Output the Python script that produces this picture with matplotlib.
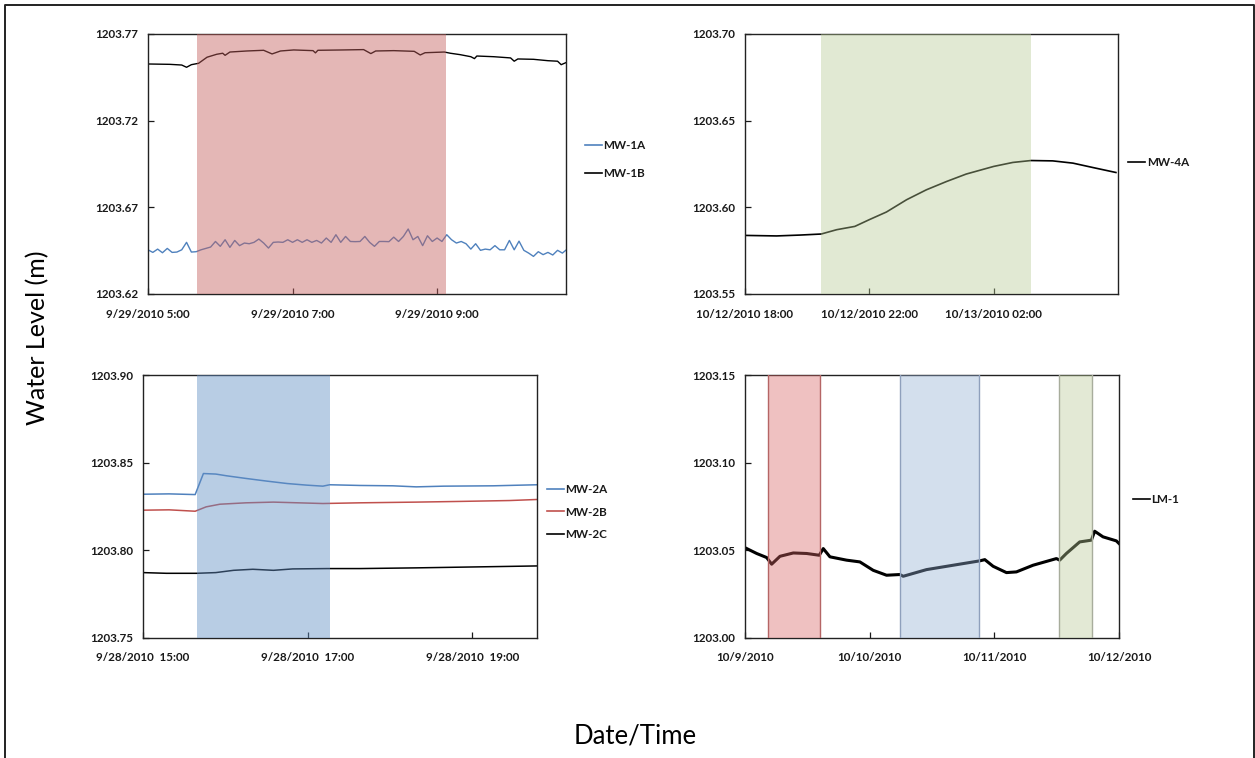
import matplotlib
matplotlib.use("Agg")
import matplotlib.pyplot as plt
import pandas as pd
from matplotlib.lines import Line2D

plt.rcParams['font.family'] = ['Lato', 'DejaVu Sans']

# ---------------- Panel 1 : 9/29/2010 ----------------
p1_date = "2010-09-29"
mw1a_start = "2010-09-29 05:00"
mw1a_step = "4min"
mw1a_values = [1203.6455, 1203.6440, 1203.6459, 1203.6438, 1203.6463, 1203.6440, 1203.6442, 1203.6455,
               1203.6498, 1203.6442, 1203.6444, 1203.6455, 1203.6463, 1203.6471, 1203.6503, 1203.6475,
               1203.6513, 1203.6469, 1203.6509, 1203.6479, 1203.6494, 1203.6490, 1203.6498, 1203.6517,
               1203.6494, 1203.6465, 1203.6498, 1203.6500, 1203.6498, 1203.6513, 1203.6498, 1203.6513,
               1203.6498, 1203.6513, 1203.6498, 1203.6509, 1203.6494, 1203.6523, 1203.6498, 1203.6542,
               1203.6498, 1203.6532, 1203.6503, 1203.6502, 1203.6503, 1203.6532, 1203.6498, 1203.6475,
               1203.6503, 1203.6503, 1203.6502, 1203.6528, 1203.6503, 1203.6532, 1203.6575, 1203.6513,
               1203.6532, 1203.6479, 1203.6536, 1203.6503, 1203.6523, 1203.6503, 1203.6542, 1203.6513,
               1203.6494, 1203.6503, 1203.6490, 1203.6459, 1203.6490, 1203.6452, 1203.6459, 1203.6455,
               1203.6479, 1203.6455, 1203.6455, 1203.6509, 1203.6455, 1203.6505, 1203.6452, 1203.6436,
               1203.6417, 1203.6444, 1203.6427, 1203.6440, 1203.6425, 1203.6452, 1203.6436, 1203.6459]
mw1b_times = ["05:00", "05:18", "05:28", "05:32", "05:36", "05:42", "05:49", "05:57", "06:02", "06:04",
              "06:08", "06:22", "06:36", "06:43", "06:50", "07:01", "07:17", "07:19", "07:21", "07:42",
              "07:59", "08:05", "08:09", "08:24", "08:41", "08:46", "08:50", "09:06", "09:11", "09:19",
              "09:28", "09:31", "09:33", "09:47", "10:01", "10:04", "10:07", "10:20", "10:32", "10:40",
              "10:43", "10:47"]
mw1b_values = [1203.7527, 1203.7525, 1203.7521, 1203.7508, 1203.7523, 1203.7531, 1203.7566, 1203.7583,
               1203.7589, 1203.7577, 1203.7596, 1203.7602, 1203.7606, 1203.7585, 1203.7602, 1203.7608,
               1203.7604, 1203.7591, 1203.7606, 1203.7608, 1203.7610, 1203.7587, 1203.7602, 1203.7604,
               1203.7600, 1203.7579, 1203.7592, 1203.7596, 1203.7589, 1203.7581, 1203.7569, 1203.7558,
               1203.7573, 1203.7569, 1203.7562, 1203.7543, 1203.7556, 1203.7554, 1203.7546, 1203.7543,
               1203.7523, 1203.7535]
p1_span = ("2010-09-29 05:41", "2010-09-29 09:07")
p1_xlim = ("2010-09-29 05:00", "2010-09-29 10:47")
p1_yticks = [1203.62, 1203.67, 1203.72, 1203.77]
p1_xticks = ["2010-09-29 05:00", "2010-09-29 07:00", "2010-09-29 09:00"]
p1_xticklabels = ["9/29/2010 5:00", "9/29/2010 7:00", "9/29/2010 9:00"]

# ---------------- Panel 2 : 10/12-10/13/2010 ----------------
mw4a_times = ["2010-10-12 18:00", "2010-10-12 19:01", "2010-10-12 19:46", "2010-10-12 20:27",
              "2010-10-12 20:57", "2010-10-12 21:32", "2010-10-12 22:00", "2010-10-12 22:33",
              "2010-10-12 23:12", "2010-10-12 23:50", "2010-10-13 00:29", "2010-10-13 01:07",
              "2010-10-13 02:00", "2010-10-13 02:37", "2010-10-13 03:12", "2010-10-13 03:54",
              "2010-10-13 04:33", "2010-10-13 05:11", "2010-10-13 05:56"]
mw4a_values = [1203.5838, 1203.5835, 1203.5840, 1203.5846, 1203.5871, 1203.5890, 1203.5929, 1203.5973,
               1203.6044, 1203.6101, 1203.6149, 1203.6192, 1203.6236, 1203.6259, 1203.6270, 1203.6268,
               1203.6255, 1203.6230, 1203.6201]
p2_span = ("2010-10-12 20:26", "2010-10-13 03:13")
p2_xlim = ("2010-10-12 18:00", "2010-10-13 06:00")
p2_yticks = [1203.55, 1203.60, 1203.65, 1203.70]
p2_xticks = ["2010-10-12 18:00", "2010-10-12 22:00", "2010-10-13 02:00"]
p2_xticklabels = ["10/12/2010 18:00", "10/12/2010 22:00", "10/13/2010 02:00"]

# ---------------- Panel 3 : 9/28/2010 ----------------
p3_date = "2010-09-28"
mw2a_times = ["15:00", "15:19", "15:38", "15:44", "15:53", "16:01", "16:15", "16:30", "16:45", "16:59",
              "17:11", "17:16", "17:38", "18:02", "18:19", "18:39", "19:15", "19:47"]
mw2a_values = [1203.8320, 1203.8322, 1203.8318, 1203.8438, 1203.8435, 1203.8425, 1203.8410, 1203.8395,
               1203.8381, 1203.8372, 1203.8366, 1203.8374, 1203.8370, 1203.8368, 1203.8362, 1203.8366,
               1203.8368, 1203.8374]
mw2b_times = ["15:00", "15:19", "15:38", "15:46", "15:56", "16:15", "16:35", "17:11", "17:38", "18:19",
              "18:51", "19:27", "19:47"]
mw2b_values = [1203.8229, 1203.8231, 1203.8223, 1203.8248, 1203.8263, 1203.8271, 1203.8275, 1203.8267,
               1203.8271, 1203.8275, 1203.8279, 1203.8284, 1203.8290]
mw2c_times = ["15:00", "15:17", "15:39", "15:53", "16:06", "16:20", "16:35", "16:49", "17:14", "17:38",
              "18:19", "18:51", "19:47"]
mw2c_values = [1203.7873, 1203.7869, 1203.7869, 1203.7873, 1203.7886, 1203.7892, 1203.7886, 1203.7894,
               1203.7896, 1203.7896, 1203.7900, 1203.7904, 1203.7911]
p3_span = ("2010-09-28 15:39", "2010-09-28 17:16")
p3_xlim = ("2010-09-28 15:00", "2010-09-28 19:47")
p3_yticks = [1203.75, 1203.80, 1203.85, 1203.90]
p3_xticks = ["2010-09-28 15:00", "2010-09-28 17:00", "2010-09-28 19:00"]
p3_xticklabels = ["9/28/2010  15:00", "9/28/2010  17:00", "9/28/2010  19:00"]

# ---------------- Panel 4 : 10/9-10/12/2010 ----------------
lm1_times = ["2010-10-09 00:00", "2010-10-09 02:15", "2010-10-09 04:10", "2010-10-09 05:08",
             "2010-10-09 06:44", "2010-10-09 09:18", "2010-10-09 11:52", "2010-10-09 14:18",
             "2010-10-09 15:04", "2010-10-09 16:21", "2010-10-09 19:33", "2010-10-09 22:07",
             "2010-10-10 00:41", "2010-10-10 03:15", "2010-10-10 05:49", "2010-10-10 06:27",
             "2010-10-10 10:56", "2010-10-10 16:04", "2010-10-10 21:12", "2010-10-10 22:10",
             "2010-10-10 23:46", "2010-10-11 02:20", "2010-10-11 04:15", "2010-10-11 07:27",
             "2010-10-11 11:57", "2010-10-11 12:35", "2010-10-11 13:52", "2010-10-11 16:26",
             "2010-10-11 18:41", "2010-10-11 19:19", "2010-10-11 20:55", "2010-10-11 23:29",
             "2010-10-12 00:00"]
lm1_values = [1203.0515, 1203.0482, 1203.0459, 1203.0421, 1203.0466, 1203.0485, 1203.0482, 1203.0472,
              1203.0510, 1203.0463, 1203.0444, 1203.0434, 1203.0386, 1203.0358, 1203.0362, 1203.0352,
              1203.0390, 1203.0415, 1203.0440, 1203.0447, 1203.0409, 1203.0373, 1203.0377, 1203.0415,
              1203.0453, 1203.0444, 1203.0482, 1203.0548, 1203.0558, 1203.0609, 1203.0577, 1203.0554,
              1203.0539]
p4_spans = [("2010-10-09 04:22", "2010-10-09 14:23"),
            ("2010-10-10 05:46", "2010-10-10 21:03"),
            ("2010-10-11 12:29", "2010-10-11 18:50")]
p4_xlim = ("2010-10-09 00:00", "2010-10-12 00:00")
p4_yticks = [1203.00, 1203.05, 1203.10, 1203.15]
p4_xticks = ["2010-10-09", "2010-10-10", "2010-10-11", "2010-10-12"]
p4_xticklabels = ["10/9/2010", "10/10/2010", "10/11/2010", "10/12/2010"]

# ---------------- styles ----------------
BLUE = "#4F81BD"
RED = "#C0504D"
BLACK = "#000000"
TICK_FS = 8.4
LEG_FS = 8.4
WEIGHT = "bold"

W, H = 1255, 758
fig = plt.figure(figsize=(W / 100, H / 100), dpi=100)


def px_axes(l, t, r, b):
    return fig.add_axes([l / W, 1 - b / H, (r - l) / W, (b - t) / H])


def style(ax, xlim, yticks, xticks, xticklabels, xpad):
    ax.set_xlim(pd.Timestamp(xlim[0]), pd.Timestamp(xlim[1]))
    ax.set_ylim(yticks[0], yticks[-1])
    ax.set_yticks(yticks)
    ax.set_yticklabels([f"{v:.2f}" for v in yticks], fontweight=WEIGHT)
    ax.set_xticks(pd.to_datetime(xticks))
    ax.set_xticklabels(xticklabels, fontweight=WEIGHT)
    ax.tick_params(axis='both', direction='in', length=4, width=0.9, labelsize=TICK_FS,
                   colors="#1a1a1a")
    ax.tick_params(axis='y', pad=7)
    ax.tick_params(axis='x', pad=xpad)
    for s in ax.spines.values():
        s.set_linewidth(1.0)
        s.set_color("#222222")


def legend(ax, x, y, spacing):
    leg = ax.legend(loc='center left', bbox_to_anchor=(x, y), frameon=False,
                    prop={'size': LEG_FS, 'weight': WEIGHT},
                    handlelength=1.45, handletextpad=0.15, borderpad=0, borderaxespad=0,
                    labelspacing=spacing)
    for h in leg.get_lines():
        h.set_linewidth(1.2)
    for t in leg.get_texts():
        t.set_color("#1a1a1a")


# Panel 1
ax1 = px_axes(148, 34, 566, 294)
t1a = pd.date_range(mw1a_start, periods=len(mw1a_values), freq=mw1a_step)
ax1.plot(t1a, mw1a_values, color=BLUE, lw=1.0, label="MW-1A", zorder=2)
ax1.plot(pd.to_datetime([p1_date + " " + t for t in mw1b_times]), mw1b_values,
         color=BLACK, lw=1.0, label="MW-1B", zorder=2)
ax1.axvspan(pd.Timestamp(p1_span[0]), pd.Timestamp(p1_span[1]), color=(197/255, 97/255, 95/255),
            alpha=0.45, lw=0, zorder=3)
style(ax1, p1_xlim, p1_yticks, p1_xticks, p1_xticklabels, 11)
legend(ax1, 1.045, 0.517, 1.45)

# Panel 2
ax2 = px_axes(745, 34, 1118, 294)
ax2.plot(pd.to_datetime(mw4a_times), mw4a_values, color=BLACK, lw=1.2, label="MW-4A", zorder=2)
ax2.axvspan(pd.Timestamp(p2_span[0]), pd.Timestamp(p2_span[1]), color=(182/255, 202/255, 147/255),
            alpha=0.4, lw=0, zorder=3)
style(ax2, p2_xlim, p2_yticks, p2_xticks, p2_xticklabels, 11)
legend(ax2, 1.027, 0.504, 1.2)

# Panel 3
ax3 = px_axes(143, 375, 537, 638)
ax3.plot(pd.to_datetime([p3_date + " " + t for t in mw2a_times]), mw2a_values,
         color=BLUE, lw=1.1, label="MW-2A", zorder=2)
ax3.plot(pd.to_datetime([p3_date + " " + t for t in mw2b_times]), mw2b_values,
         color=RED, lw=1.1, label="MW-2B", zorder=2)
ax3.plot(pd.to_datetime([p3_date + " " + t for t in mw2c_times]), mw2c_values,
         color=BLACK, lw=1.1, label="MW-2C", zorder=2)
ax3.axvspan(pd.Timestamp(p3_span[0]), pd.Timestamp(p3_span[1]), color=(99/255, 144/255, 197/255),
            alpha=0.45, lw=0, zorder=3)
style(ax3, p3_xlim, p3_yticks, p3_xticks, p3_xticklabels, 10)
legend(ax3, 1.025, 0.479, 0.95)

# Panel 4
ax4 = px_axes(745, 375, 1119, 638)
ax4.plot(pd.to_datetime(lm1_times), lm1_values, color=BLACK, lw=2.2, label="LM-1", zorder=2)
span_fill = [(217/255, 102/255, 102/255), (147/255, 175/255, 212/255), (185/255, 202/255, 150/255)]
span_edge = ["#B56565", "#8FA0BC", "#A8AD9C"]
for (s, e), fc, ec in zip(p4_spans, span_fill, span_edge):
    ax4.axvspan(pd.Timestamp(s), pd.Timestamp(e), facecolor=fc, alpha=0.4, lw=0, zorder=3)
    for t in (s, e):
        ax4.axvline(pd.Timestamp(t), color=ec, lw=1.0, zorder=3)
style(ax4, p4_xlim, p4_yticks, p4_xticks, p4_xticklabels, 10)
legend(ax4, 1.037, 0.525, 1.0)

# Axis titles
fig.text(38 / W, 1 - 338 / H, "Water Level (m)", rotation=90, ha='center', va='center', fontsize=18)
fig.text(635 / W, 1 - 736 / H, "Date/Time", ha='center', va='center', fontsize=18.5)

# Outer frame (left, top, right)
fx = [4.5 / W, 4.5 / W, 1253.5 / W, 1253.5 / W]
fy = [0, 1 - 5 / H, 1 - 5 / H, 0]
fig.add_artist(Line2D(fx, fy, transform=fig.transFigure, color="#222222", lw=1.4))

fig.savefig("out.png", dpi=100)
